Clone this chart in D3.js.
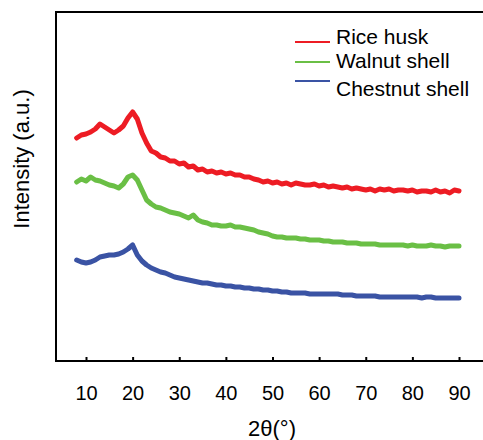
<!DOCTYPE html>
<html>
<head>
<meta charset="utf-8">
<script src="https://cdn.jsdelivr.net/npm/d3@7"></script>
<style>
  html, body { margin: 0; padding: 0; background: #fff; }
  svg { display: block; font-family: "Liberation Sans", Arial, sans-serif; }
</style>
</head>
<body>
<svg id="chart" width="483" height="440"></svg>
<script>
// 2θ sample positions (degrees)
const angles = [8, 9,
  10, 11, 12, 13, 14, 15, 16, 17, 18, 19,
  20, 21, 22, 23, 24, 25, 26, 27, 28, 29,
  30, 31, 32, 33, 34, 35, 36, 37, 38, 39,
  40, 41, 42, 43, 44, 45, 46, 47, 48, 49,
  50, 51, 52, 53, 54, 55, 56, 57, 58, 59,
  60, 61, 62, 63, 64, 65, 66, 67, 68, 69,
  70, 71, 72, 73, 74, 75, 76, 77, 78, 79,
  80, 81, 82, 83, 84, 85, 86, 87, 88, 89,
  90];

const riceHusk = [223, 226,
  227, 229, 232, 237, 234, 231, 228, 231, 235, 243,
  249, 242, 228, 218, 210, 208, 204, 203, 200, 200,
  197, 198, 194, 195, 191, 192, 189, 190, 188, 189,
  187, 188, 186, 186, 184, 184, 182, 181, 179, 180,
  178, 179, 177, 178, 176, 178, 177, 176, 176, 177,
  175, 176, 174, 175, 174, 173, 174, 172, 173, 172,
  171, 172, 170, 172, 171, 172, 170, 171, 171, 170,
  171, 169, 170, 170, 169, 171, 169, 170, 168, 171,
  170];

const walnutShell = [179, 182,
  180, 184, 181, 180, 178, 176, 175, 173, 177, 184,
  186, 181, 171, 161, 157, 154, 153, 151, 149, 148,
  147, 145, 143, 146, 141, 139, 138, 136, 136, 135,
  135, 136, 134, 134, 133, 132, 131, 129, 128, 127,
  125, 124, 124, 123, 123, 123, 122, 122, 121, 121,
  121, 120, 120, 119, 119, 119, 118, 118, 118, 117,
  117, 117, 117, 116, 116, 116, 116, 116, 116, 115,
  116, 115, 115, 115, 116, 115, 115, 114, 115, 115,
  115];

const chestnutShell = [101, 99,
  98, 99, 101, 104, 105, 106, 106, 107, 109, 112,
  116, 106, 100, 96, 93, 91, 89, 88, 86, 84,
  83, 82, 81, 80, 79, 78, 78, 77, 76, 76,
  75, 75, 74, 74, 73, 73, 72, 72, 71, 71,
  70, 70, 69, 69, 68, 68, 68, 68, 67, 67,
  67, 67, 67, 67, 67, 66, 66, 66, 65, 65,
  65, 65, 65, 64, 64, 64, 64, 64, 64, 64,
  64, 64, 63, 64, 64, 63, 63, 63, 63, 63,
  63];

const seriesNames = ["Rice husk", "Walnut shell", "Chestnut shell"];
const seriesColors = ["#ed1c24", "#6abf45", "#3a53a4"];
const xTicks = [10, 20, 30, 40, 50, 60, 70, 80, 90];

const svg = d3.select("#chart");
const W = 483, H = 440;
const mLeft = 56, mTop = 12, mBottom = 361;

const x = d3.scaleLinear().domain([10, 90]).range([86, 459]);
const y = d3.scaleLinear().domain([0, 349]).range([mBottom, mTop]);

// frame (left, top, bottom; right side cropped)
svg.append("path")
  .attr("d", `M${W},${mTop}H${mLeft}V${mBottom}H${W}`)
  .attr("fill", "none").attr("stroke", "#000").attr("stroke-width", 2);

// x axis ticks (inward) and labels
const xAxis = d3.axisBottom(x).tickValues(xTicks).tickSizeInner(-4).tickSizeOuter(0).tickPadding(0);
const gx = svg.append("g").attr("transform", `translate(0,${mBottom})`).call(xAxis);
gx.select(".domain").remove();
gx.selectAll(".tick line").attr("stroke", "#000").attr("stroke-width", 2);
gx.selectAll(".tick text")
  .attr("y", 39).attr("dy", null)
  .attr("fill", "#000")
  .style("font-size", "20px")
  .style("font-family", "'Liberation Sans', Arial, sans-serif");

// lines
const allSeries = [riceHusk, walnutShell, chestnutShell];
const line = d3.line().x(d => x(d[0])).y(d => y(d[1])).curve(d3.curveLinear);
allSeries.forEach((vals, i) => {
  const pts = angles.map((a, j) => [a, vals[j]]);
  svg.append("path")
    .datum(pts)
    .attr("d", line)
    .attr("fill", "none")
    .attr("stroke", seriesColors[i])
    .attr("stroke-width", 5)
    .attr("stroke-linejoin", "round")
    .attr("stroke-linecap", "round");
});

// legend
const legLineY = [42, 62, 81];
const legTextY = [44, 68, 96];
seriesNames.forEach((name, i) => {
  svg.append("line")
    .attr("x1", 295).attr("x2", 330)
    .attr("y1", legLineY[i]).attr("y2", legLineY[i])
    .attr("stroke", seriesColors[i]).attr("stroke-width", 2);
  svg.append("text")
    .attr("x", 336).attr("y", legTextY[i])
    .attr("fill", "#000")
    .style("font-size", "21px")
    .text(name);
});

// axis titles
svg.append("text")
  .attr("x", 272).attr("y", 436)
  .attr("text-anchor", "middle")
  .attr("fill", "#000")
  .style("font-size", "22px")
  .text("2θ(°)");

svg.append("text")
  .attr("transform", "translate(29,159) rotate(-90)")
  .attr("text-anchor", "middle")
  .attr("fill", "#000")
  .style("font-size", "22px")
  .text("Intensity (a.u.)");
</script>
</body>
</html>
